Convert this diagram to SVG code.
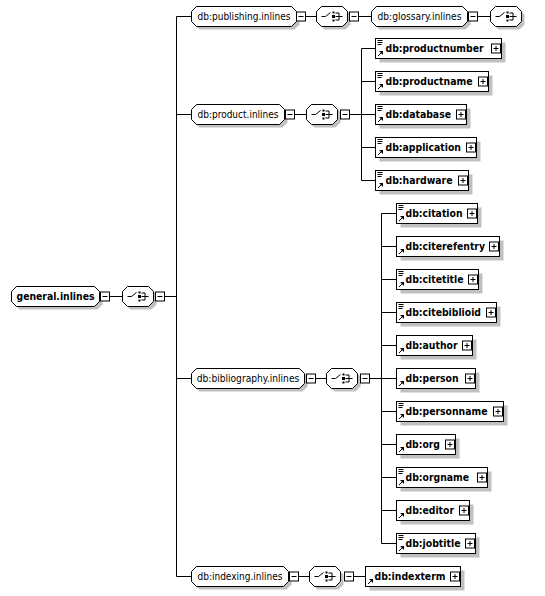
<svg xmlns="http://www.w3.org/2000/svg" xmlns:xlink="http://www.w3.org/1999/xlink" width="545" height="596" viewBox="0 0 545 596">
<style>
.ln{stroke:#000;stroke-width:1;fill:none}
.sh{fill:#c0c0c0;stroke:none}
.bx{fill:#fff;stroke:#000;stroke-width:1}
.gt{font-family:"DejaVu Sans",Verdana,sans-serif;font-size:9.6px;fill:#000;text-anchor:middle}
.et{font-family:"DejaVu Sans",Verdana,sans-serif;font-size:10px;font-weight:bold;fill:#000}
</style>
<defs>
<g id="mn"><rect class="bx" x="0" y="-4.5" width="9" height="9"/><path class="ln" d="M2,0H7"/></g>
<g id="pl"><rect class="bx" x="0" y="-4.5" width="9" height="9"/><path class="ln" d="M2,0H7M4.5,-2.5V2.5"/></g>
<g id="chc">
<path class="sh" d="M8,-7H29L34,-2V8L29,13H8L3,8V-2Z"/>
<path class="bx" d="M5,-10H26L31,-5V5L26,10H5L0,5V-5Z"/>
<path class="ln" d="M5,0H9L14,-4"/>
<rect x="16" y="-5" width="2" height="2" fill="#000"/>
<rect x="15.5" y="-1.5" width="3" height="3" fill="#000"/>
<rect x="16" y="3" width="2" height="2" fill="#000"/>
<path class="ln" d="M19,-3.5H22.5V3.5H19M19,0H26"/>
</g>
<g id="doc"><path class="ln" d="M2,2H7M2,4H7M2,6H6"/></g>
<g id="ref"><path class="ln" d="M2.5,17.5L5.5,14.5"/><polygon points="3.5,12.5 7.5,12.5 7.5,16.5" fill="#000"/></g>
</defs>

<g id="connectors">
<path class="ln" d="M109.5,296.5H122.5M164.5,296.5H176.5M176.5,16.5V576.5M176.5,16.5H191.5M176.5,114.5H191.5M176.5,378.5H191.5M176.5,576.5H191.5"/>
<path class="ln" d="M305.5,16.5H316.5M358.5,16.5H371.5M477.5,16.5H490.5"/>
<path class="ln" d="M294.5,114.5H306.5M349.5,114.5H361.5M361.5,48.5V180.5M361.5,48.5H375.5M361.5,81.5H375.5M361.5,114.5H375.5M361.5,147.5H375.5M361.5,180.5H375.5"/>
<path class="ln" d="M315.5,378.5H326.5M369.5,378.5H381.5M381.5,213.5V543.5M381.5,213.5H396.5M381.5,246.5H396.5M381.5,279.5H396.5M381.5,312.5H396.5M381.5,345.5H396.5M381.5,378.5H396.5M381.5,411.5H396.5M381.5,444.5H396.5M381.5,477.5H396.5M381.5,510.5H396.5M381.5,543.5H396.5"/>
<path class="ln" d="M298.5,576.5H309.5M353.5,576.5H365.5"/>
</g>

<g id="general.inlines">
<path class="sh" d="M19.5,289.5H97.5L102.5,294.5V304.5L97.5,309.5H19.5L14.5,304.5V294.5Z"/>
<path class="bx" d="M16.5,286.5H94.5L99.5,291.5V301.5L94.5,306.5H16.5L11.5,301.5V291.5Z"/>
<text class="et" x="55.5" y="300" text-anchor="middle" textLength="78" lengthAdjust="spacingAndGlyphs">general.inlines</text>
<use xlink:href="#mn" x="100.5" y="296.5"/>
</g>
<g id="general.choice"><use xlink:href="#chc" x="122.5" y="296.5"/><use xlink:href="#mn" x="155.5" y="296.5"/></g>

<g id="publishing.inlines">
<path class="sh" d="M199.5,9.5H294.5L299.5,14.5V24.5L294.5,29.5H199.5L194.5,24.5V14.5Z"/>
<path class="bx" d="M196.5,6.5H291.5L296.5,11.5V21.5L291.5,26.5H196.5L191.5,21.5V11.5Z"/>
<text class="gt" x="244" y="20" textLength="93" lengthAdjust="spacingAndGlyphs">db:publishing.inlines</text>
<use xlink:href="#mn" x="296.5" y="16.5"/>
</g>
<g id="publishing.choice"><use xlink:href="#chc" x="316.5" y="16.5"/><use xlink:href="#mn" x="349.5" y="16.5"/></g>
<g id="glossary.inlines">
<path class="sh" d="M379.5,9.5H465.5L470.5,14.5V24.5L465.5,29.5H379.5L374.5,24.5V14.5Z"/>
<path class="bx" d="M376.5,6.5H462.5L467.5,11.5V21.5L462.5,26.5H376.5L371.5,21.5V11.5Z"/>
<text class="gt" x="419.5" y="20" textLength="84" lengthAdjust="spacingAndGlyphs">db:glossary.inlines</text>
<use xlink:href="#mn" x="468.5" y="16.5"/>
</g>
<g id="glossary.choice"><use xlink:href="#chc" x="490.5" y="16.5"/></g>

<g id="product.inlines">
<path class="sh" d="M199.5,107.5H282.5L287.5,112.5V122.5L282.5,127.5H199.5L194.5,122.5V112.5Z"/>
<path class="bx" d="M196.5,104.5H279.5L284.5,109.5V119.5L279.5,124.5H196.5L191.5,119.5V109.5Z"/>
<text class="gt" x="238" y="118" textLength="81" lengthAdjust="spacingAndGlyphs">db:product.inlines</text>
<use xlink:href="#mn" x="285.5" y="114.5"/>
</g>
<g id="product.choice"><use xlink:href="#chc" x="306.5" y="114.5"/><use xlink:href="#mn" x="340.5" y="114.5"/></g>

<g id="productnumber"><rect class="sh" x="379.5" y="42.5" width="126" height="20"/><rect class="bx" x="375.5" y="38.5" width="126" height="20"/><use xlink:href="#doc" x="375.5" y="38.5"/><use xlink:href="#ref" x="375.5" y="38.5"/><text class="et" x="385.5" y="52" textLength="98" lengthAdjust="spacingAndGlyphs">db:productnumber</text><use xlink:href="#pl" x="491.5" y="48.5"/></g>
<g id="productname"><rect class="sh" x="379.5" y="75.5" width="113" height="20"/><rect class="bx" x="375.5" y="71.5" width="113" height="20"/><use xlink:href="#doc" x="375.5" y="71.5"/><use xlink:href="#ref" x="375.5" y="71.5"/><text class="et" x="385.5" y="85" textLength="87" lengthAdjust="spacingAndGlyphs">db:productname</text><use xlink:href="#pl" x="478.5" y="81.5"/></g>
<g id="database"><rect class="sh" x="379.5" y="108.5" width="91" height="20"/><rect class="bx" x="375.5" y="104.5" width="91" height="20"/><use xlink:href="#doc" x="375.5" y="104.5"/><use xlink:href="#ref" x="375.5" y="104.5"/><text class="et" x="385.5" y="118" textLength="65.5" lengthAdjust="spacingAndGlyphs">db:database</text><use xlink:href="#pl" x="456.5" y="114.5"/></g>
<g id="application"><rect class="sh" x="379.5" y="141.5" width="101" height="20"/><rect class="bx" x="375.5" y="137.5" width="101" height="20"/><use xlink:href="#doc" x="375.5" y="137.5"/><use xlink:href="#ref" x="375.5" y="137.5"/><text class="et" x="385.5" y="151" textLength="75.5" lengthAdjust="spacingAndGlyphs">db:application</text><use xlink:href="#pl" x="466.5" y="147.5"/></g>
<g id="hardware"><rect class="sh" x="379.5" y="174.5" width="93" height="20"/><rect class="bx" x="375.5" y="170.5" width="93" height="20"/><use xlink:href="#doc" x="375.5" y="170.5"/><use xlink:href="#ref" x="375.5" y="170.5"/><text class="et" x="385.5" y="184" textLength="67" lengthAdjust="spacingAndGlyphs">db:hardware</text><use xlink:href="#pl" x="458.5" y="180.5"/></g>

<g id="bibliography.inlines">
<path class="sh" d="M199.5,371.5H302.5L307.5,376.5V386.5L302.5,391.5H199.5L194.5,386.5V376.5Z"/>
<path class="bx" d="M196.5,368.5H299.5L304.5,373.5V383.5L299.5,388.5H196.5L191.5,383.5V373.5Z"/>
<text class="gt" x="248" y="382" textLength="102.5" lengthAdjust="spacingAndGlyphs">db:bibliography.inlines</text>
<use xlink:href="#mn" x="306.5" y="378.5"/>
</g>
<g id="bibliography.choice"><use xlink:href="#chc" x="326.5" y="378.5"/><use xlink:href="#mn" x="360.5" y="378.5"/></g>

<g id="citation"><rect class="sh" x="400.5" y="207.5" width="81" height="20"/><rect class="bx" x="396.5" y="203.5" width="81" height="20"/><use xlink:href="#doc" x="396.5" y="203.5"/><use xlink:href="#ref" x="396.5" y="203.5"/><text class="et" x="405.5" y="217" textLength="57" lengthAdjust="spacingAndGlyphs">db:citation</text><use xlink:href="#pl" x="467.5" y="213.5"/></g>
<g id="citerefentry"><rect class="sh" x="400.5" y="240.5" width="103" height="20"/><rect class="bx" x="396.5" y="236.5" width="103" height="20"/><use xlink:href="#ref" x="396.5" y="236.5"/><text class="et" x="405.5" y="250" textLength="79.5" lengthAdjust="spacingAndGlyphs">db:citerefentry</text><use xlink:href="#pl" x="489.5" y="246.5"/></g>
<g id="citetitle"><rect class="sh" x="400.5" y="273.5" width="82" height="20"/><rect class="bx" x="396.5" y="269.5" width="82" height="20"/><use xlink:href="#doc" x="396.5" y="269.5"/><use xlink:href="#ref" x="396.5" y="269.5"/><text class="et" x="405.5" y="283" textLength="58" lengthAdjust="spacingAndGlyphs">db:citetitle</text><use xlink:href="#pl" x="468.5" y="279.5"/></g>
<g id="citebiblioid"><rect class="sh" x="400.5" y="306.5" width="100" height="20"/><rect class="bx" x="396.5" y="302.5" width="100" height="20"/><use xlink:href="#doc" x="396.5" y="302.5"/><use xlink:href="#ref" x="396.5" y="302.5"/><text class="et" x="405.5" y="316" textLength="75.5" lengthAdjust="spacingAndGlyphs">db:citebiblioid</text><use xlink:href="#pl" x="486.5" y="312.5"/></g>
<g id="author"><rect class="sh" x="400.5" y="339.5" width="76" height="20"/><rect class="bx" x="396.5" y="335.5" width="76" height="20"/><use xlink:href="#ref" x="396.5" y="335.5"/><text class="et" x="405.5" y="349" textLength="52" lengthAdjust="spacingAndGlyphs">db:author</text><use xlink:href="#pl" x="462.5" y="345.5"/></g>
<g id="person"><rect class="sh" x="400.5" y="372.5" width="79" height="20"/><rect class="bx" x="396.5" y="368.5" width="79" height="20"/><use xlink:href="#ref" x="396.5" y="368.5"/><text class="et" x="405.5" y="382" textLength="53" lengthAdjust="spacingAndGlyphs">db:person</text><use xlink:href="#pl" x="465.5" y="378.5"/></g>
<g id="personname"><rect class="sh" x="400.5" y="405.5" width="107" height="20"/><rect class="bx" x="396.5" y="401.5" width="107" height="20"/><use xlink:href="#doc" x="396.5" y="401.5"/><use xlink:href="#ref" x="396.5" y="401.5"/><text class="et" x="405.5" y="415" textLength="82" lengthAdjust="spacingAndGlyphs">db:personname</text><use xlink:href="#pl" x="493.5" y="411.5"/></g>
<g id="org"><rect class="sh" x="400.5" y="438.5" width="59" height="20"/><rect class="bx" x="396.5" y="434.5" width="59" height="20"/><use xlink:href="#ref" x="396.5" y="434.5"/><text class="et" x="405.5" y="448" textLength="34.5" lengthAdjust="spacingAndGlyphs">db:org</text><use xlink:href="#pl" x="445.5" y="444.5"/></g>
<g id="orgname"><rect class="sh" x="400.5" y="471.5" width="91" height="20"/><rect class="bx" x="396.5" y="467.5" width="91" height="20"/><use xlink:href="#doc" x="396.5" y="467.5"/><use xlink:href="#ref" x="396.5" y="467.5"/><text class="et" x="405.5" y="481" textLength="63.5" lengthAdjust="spacingAndGlyphs">db:orgname</text><use xlink:href="#pl" x="477.5" y="477.5"/></g>
<g id="editor"><rect class="sh" x="400.5" y="504.5" width="73" height="20"/><rect class="bx" x="396.5" y="500.5" width="73" height="20"/><use xlink:href="#ref" x="396.5" y="500.5"/><text class="et" x="405.5" y="514" textLength="48.5" lengthAdjust="spacingAndGlyphs">db:editor</text><use xlink:href="#pl" x="459.5" y="510.5"/></g>
<g id="jobtitle"><rect class="sh" x="400.5" y="537.5" width="79" height="20"/><rect class="bx" x="396.5" y="533.5" width="79" height="20"/><use xlink:href="#doc" x="396.5" y="533.5"/><use xlink:href="#ref" x="396.5" y="533.5"/><text class="et" x="405.5" y="547" textLength="55" lengthAdjust="spacingAndGlyphs">db:jobtitle</text><use xlink:href="#pl" x="465.5" y="543.5"/></g>

<g id="indexing.inlines">
<path class="sh" d="M199.5,569.5H286.5L291.5,574.5V584.5L286.5,589.5H199.5L194.5,584.5V574.5Z"/>
<path class="bx" d="M196.5,566.5H283.5L288.5,571.5V581.5L283.5,586.5H196.5L191.5,581.5V571.5Z"/>
<text class="gt" x="240" y="580" textLength="85" lengthAdjust="spacingAndGlyphs">db:indexing.inlines</text>
<use xlink:href="#mn" x="289.5" y="576.5"/>
</g>
<g id="indexing.choice"><use xlink:href="#chc" x="309.5" y="576.5"/><use xlink:href="#mn" x="344.5" y="576.5"/></g>
<g id="indexterm"><rect class="sh" x="369.5" y="570.5" width="95" height="20"/><rect class="bx" x="365.5" y="566.5" width="95" height="20"/><use xlink:href="#ref" x="365.5" y="566.5"/><text class="et" x="374.5" y="580" textLength="71" lengthAdjust="spacingAndGlyphs">db:indexterm</text><use xlink:href="#pl" x="450.5" y="576.5"/></g>
</svg>
